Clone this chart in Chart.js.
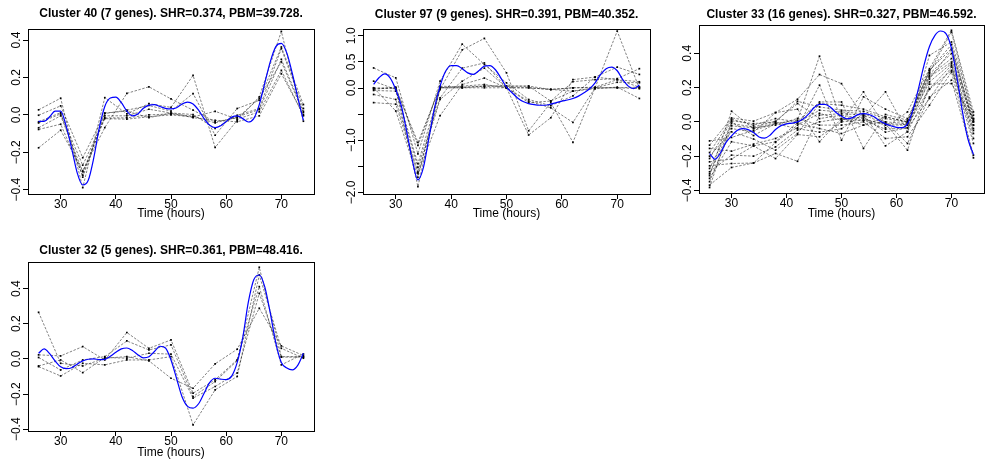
<!DOCTYPE html>
<html lang="en">
  <head>
    <meta charset="UTF-8" />
    <title>Cluster profiles</title>
    <script src="https://cdn.jsdelivr.net/npm/chart.js"></script>
    <style>
      body {
        margin: 0;
        background: #fff;
        width: 995px;
        height: 461px;
        position: relative;
        overflow: hidden;
      }

      canvas {
        position: absolute;
      }
    </style>
  </head>
  <body>
    <canvas id="c40" width="330" height="228" style="left: 0; top: 0"></canvas>
    <canvas id="c97" width="330" height="228" style="left: 332px; top: 0"></canvas>
    <canvas id="c33" width="333" height="228" style="left: 662px; top: 0"></canvas>
    <canvas id="c32" width="330" height="229" style="left: 0; top: 232px"></canvas>

    <script>
      // sampling times (hours)
      const hours = [26, 30, 34, 38, 42, 46, 50, 54, 58, 62, 66, 70, 74];
      const smoothHours = [
        26, 27, 28, 29, 30, 31, 32, 33, 34, 35, 36, 37, 38, 39, 40, 41, 42,
        43, 44, 45, 46, 47, 48, 49, 50, 51, 52, 53, 54, 55, 56, 57, 58, 59,
        60, 61, 62, 63, 64, 65, 66, 67, 68, 69, 70, 71, 72, 73, 74,
      ];
      const xTicks = [30, 40, 50, 60, 70];

      // Cluster 40
      const c40Genes = [
        [-0.176, -0.082, -0.3, -0.068, 0.115, 0.15, 0.085, 0.025, -0.037, -0.016, 0.087, 0.283, 0.012],
        [0.027, 0.089, -0.389, 0.092, 0.005, 0.06, 0.04, 0.211, -0.174, -0.029, 0.096, 0.446, -0.034],
        [-0.002, 0.048, -0.229, 0.007, 0.025, 0.05, 0.02, 0.114, -0.109, 0.034, 0.078, 0.363, 0.055],
        [-0.037, 0.012, -0.333, -0.005, -0.005, 0.03, 0.01, 0.002, -0.073, -0.002, 0.034, 0.354, 0.034],
        [-0.043, 0.005, -0.269, -0.016, -0.016, 0.0, 0.005, -0.007, -0.043, -0.011, 0.028, 0.297, 0.019],
        [-0.069, -0.005, -0.304, -0.02, -0.023, -0.01, 0.0, -0.011, 0.019, -0.023, 0.016, 0.238, -0.005],
        [-0.078, -0.05, -0.322, 0.01, 0.02, -0.015, 0.01, -0.015, -0.029, -0.037, -0.005, 0.22, 0.0],
      ];
      const c40Smooth = [
        -0.035, -0.035, -0.01, 0.02, 0.02, -0.06, -0.18, -0.31, -0.375, -0.35,
        -0.23, -0.07, 0.045, 0.09, 0.095, 0.065, 0.02, -0.005, 0.005, 0.035,
        0.052, 0.055, 0.045, 0.035, 0.032, 0.038, 0.058, 0.068, 0.058, 0.025,
        -0.02, -0.055, -0.068, -0.058, -0.035, -0.012, -0.005, -0.02, -0.038,
        -0.02, 0.055, 0.17, 0.285, 0.365, 0.382, 0.33, 0.22, 0.09, -0.03,
      ];

      // Cluster 97
      const c97Genes = [
        [0.004, -0.01, -1.04, 0.004, 0.004, 0.004, 0.004, 0.004, -0.028, 0.004, 0.004, 0.004, 0.017],
        [-0.028, 0.017, -1.1, 0.036, 0.017, 0.036, 0.036, 0.036, -0.25, 0.12, 0.16, 0.18, 0.37],
        [0.384, 0.194, -1.26, 0.13, 0.84, 0.45, 0.099, -0.22, -0.34, -0.15, 0.21, 0.4, 0.26],
        [0.131, -0.028, -1.45, -0.03, 0.73, 0.95, 0.29, -0.82, -0.28, -1.04, 0.004, 1.09, -0.01],
        [-0.047, -0.06, -1.52, -0.19, 0.38, 0.48, 0.004, -0.9, -0.57, 0.16, 0.21, 0.16, 0.12],
        [-0.124, -0.22, -1.61, -0.22, 0.13, 0.38, 0.004, -0.25, -0.38, -0.66, 0.004, 0.11, 0.1],
        [-0.28, -0.31, -1.64, -0.53, 0.067, 0.19, 0.004, -0.28, -0.25, -0.06, -0.015, 0.017, -0.2],
        [0.004, -0.44, -1.71, 0.004, 0.036, 0.067, 0.004, 0.004, -0.028, 0.004, 0.016, 0.16, 0.017],
        [-0.01, 0.004, -1.89, 0.004, 0.004, 0.036, 0.036, 0.036, -0.028, -0.06, 0.004, 0.004, -0.01],
      ];
      const c97Smooth = [
        0.07, 0.2, 0.27, 0.19, -0.03, -0.34, -0.85, -1.39, -1.76, -1.52, -0.95,
        -0.38, 0.036, 0.32, 0.43, 0.43, 0.37, 0.29, 0.26, 0.33, 0.42, 0.43,
        0.35, 0.19, 0.017, -0.09, -0.19, -0.26, -0.3, -0.32, -0.33, -0.33,
        -0.31, -0.28, -0.25, -0.23, -0.2, -0.155, -0.09, -0.015, 0.1, 0.26,
        0.37, 0.4, 0.33, 0.16, 0.036, -0.01, 0.055,
      ];

      // Cluster 33
      const c33Genes = [
        [-0.111, -0.091, -0.05, -0.01, 0.01, 0.383, 0.0, 0.175, -0.035, 0.058, 0.31, 0.534, 0.058],
        [-0.136, 0.023, 0.004, 0.054, 0.132, 0.276, 0.223, 0.029, 0.175, -0.058, 0.388, 0.466, 0.039],
        [-0.155, -0.171, -0.13, -0.097, -0.035, 0.214, -0.107, 0.146, 0.074, 0.019, 0.29, 0.524, 0.019],
        [-0.179, 0.016, -0.02, 0.019, 0.0, 0.116, 0.116, -0.155, 0.043, 0.01, 0.3, 0.427, 0.01],
        [-0.2, -0.058, -0.1, -0.165, -0.068, 0.107, 0.097, 0.074, 0.029, 0.0, 0.28, 0.398, -0.019],
        [-0.214, 0.006, -0.01, 0.0, 0.12, 0.087, 0.068, 0.062, 0.019, -0.004, 0.27, 0.369, 0.0],
        [-0.233, -0.217, -0.14, -0.116, -0.004, 0.068, 0.058, 0.048, 0.0, -0.01, 0.262, 0.349, -0.039],
        [-0.256, -0.243, -0.24, -0.184, -0.23, 0.039, 0.048, 0.039, -0.01, -0.016, 0.233, 0.34, -0.068],
        [-0.272, -0.01, -0.03, 0.004, 0.107, 0.019, 0.039, 0.019, -0.019, -0.019, 0.194, 0.33, -0.097],
        [-0.291, -0.194, -0.2, -0.146, -0.048, 0.0, 0.019, 0.01, -0.043, -0.035, 0.136, 0.32, -0.126],
        [-0.303, -0.023, -0.035, -0.019, 0.02, -0.019, -0.019, 0.0, -0.097, -0.087, 0.097, 0.291, -0.194],
        [-0.314, 0.062, -0.04, -0.004, -0.01, -0.039, -0.068, -0.019, 0.0, -0.126, 0.145, 0.243, -0.21],
        [-0.33, -0.116, -0.14, -0.214, -0.074, -0.087, 0.0, 0.01, -0.01, -0.165, 0.22, 0.223, 0.019],
        [-0.349, -0.039, -0.06, 0.054, 0.074, -0.116, 0.019, -0.019, 0.029, 0.0, 0.3, 0.45, -0.019],
        [-0.369, -0.266, -0.24, -0.12, -0.019, 0.05, 0.01, 0.029, -0.06, -0.035, 0.25, 0.42, 0.0],
        [-0.383, 0.0, -0.08, -0.01, -0.04, -0.06, -0.04, 0.048, -0.14, -0.058, 0.19, 0.3, -0.05],
      ];
      const c33Smooth = [
        -0.185, -0.218, -0.18, -0.12, -0.082, -0.05, -0.04, -0.045, -0.062,
        -0.088, -0.095, -0.078, -0.045, -0.022, -0.012, -0.007, 0.0, 0.016,
        0.045, 0.082, 0.102, 0.102, 0.085, 0.055, 0.033, 0.018, 0.025, 0.042,
        0.048, 0.043, 0.028, 0.005, -0.012, -0.023, -0.032, -0.034, -0.012,
        0.07, 0.194, 0.33, 0.44, 0.505, 0.53, 0.515, 0.43, 0.26, 0.06, -0.1,
        -0.19,
      ];

      // Cluster 32
      const c32Genes = [
        [0.265, -0.025, -0.04, 0.004, 0.013, -0.011, -0.11, -0.167, -0.028, 0.055, 0.288, 0.074, 0.019],
        [0.023, 0.017, 0.07, -0.006, 0.15, 0.06, 0.108, -0.195, -0.119, -0.005, 0.411, -0.034, 0.028],
        [0.008, -0.063, -0.006, 0.013, 0.102, 0.051, 0.08, -0.214, -0.129, -0.01, 0.521, 0.013, 0.013],
        [-0.04, -0.006, -0.078, 0.008, 0.004, 0.032, 0.027, -0.223, -0.157, -0.08, 0.373, 0.01, 0.01],
        [-0.044, -0.097, -0.025, -0.034, -0.006, -0.006, 0.013, -0.375, -0.176, -0.1, 0.477, 0.06, 0.004],
      ];
      const c32Smooth = [
        0.032, 0.057, 0.03, -0.012, -0.045, -0.055, -0.05, -0.03, -0.011,
        -0.002, 0.0, -0.004, -0.003, 0.015, 0.038, 0.057, 0.062, 0.048, 0.024,
        0.006, 0.012, 0.042, 0.072, 0.062, -0.006, -0.11, -0.215, -0.27, -0.28,
        -0.255, -0.195, -0.135, -0.11, -0.115, -0.118, -0.098, -0.02, 0.12,
        0.32, 0.45, 0.477, 0.41, 0.26, 0.09, -0.02, -0.052, -0.062, -0.035,
        0.032,
      ];

      const smallTicks = [-0.4, -0.2, 0, 0.2, 0.4];
      const smallLabels = ["\u22120.4", "\u22120.2", "0.0", "0.2", "0.4"];
      const wideTicks = [-2, -1.5, -1, -0.5, 0, 0.5, 1];
      const wideLabels = ["\u22122.0", "", "\u22121.0", "", "0.0", "0.5", "1.0"];

      const FONT = "'Liberation Sans', Arial, Helvetica, sans-serif";

      // box, title and axis texts in the R style
      const panelText = {
        id: "panelText",
        afterDraw(chart, args, opts) {
          const { ctx, chartArea: a, scales } = chart;
          ctx.save();
          ctx.strokeStyle = "#000";
          ctx.lineWidth = 1;
          ctx.strokeRect(a.left + 0.5, a.top + 0.5, a.width, a.height);

          ctx.fillStyle = "#000";
          ctx.textAlign = "center";
          ctx.textBaseline = "middle";
          const cx = (a.left + a.right) / 2;
          ctx.font = "bold 12px " + FONT;
          ctx.fillText(opts.title, cx, opts.titleY);

          ctx.font = "12px " + FONT;
          xTicks.forEach((v) => {
            ctx.fillText(String(v), scales.x.getPixelForValue(v), a.bottom + 11);
          });
          ctx.fillText("Time (hours)", cx, opts.xTitleY);

          opts.yTicks.forEach((v, i) => {
            const lab = opts.yLabels[i];
            if (!lab) return;
            ctx.save();
            ctx.translate(a.left - 11.5, scales.y.getPixelForValue(v));
            ctx.rotate(-Math.PI / 2);
            ctx.fillText(lab, 0, 0);
            ctx.restore();
          });
          ctx.restore();
        },
      };

      function makePanel(p) {
        const datasets = [
          {
            data: p.smooth.map((v, i) => ({ x: smoothHours[i], y: v })),
            borderColor: "#0000ff",
            borderWidth: 1.2,
            pointRadius: 0,
            cubicInterpolationMode: "monotone",
            order: 0,
          },
        ];
        p.genes.forEach((vals) => {
          datasets.push({
            data: vals.map((v, i) => ({ x: hours[i], y: v })),
            borderColor: "rgba(0, 0, 0, 0.7)",
            borderWidth: 0.7,
            borderDash: [2.5, 1.5],
            pointStyle: "rect",
            pointRadius: 1.2,
            pointBackgroundColor: "#000",
            pointBorderWidth: 0,
            tension: 0,
            order: 1,
          });
        });

        const canvas = document.getElementById(p.id);
        const left = parseFloat(canvas.style.left) || 0;
        const top = parseFloat(canvas.style.top) || 0;
        const w = canvas.width;
        const h = canvas.height;
        const b = p.box;

        const gridOpts = {
          drawOnChartArea: false,
          drawTicks: true,
          tickLength: 5,
          color: "#000",
          lineWidth: 1,
        };

        new Chart(canvas, {
          type: "line",
          data: { datasets: datasets },
          options: {
            responsive: false,
            animation: false,
            layout: {
              padding: { left: 0, top: b.t - top, right: left + w - b.r, bottom: 0 },
            },
            plugins: {
              legend: { display: false },
              tooltip: { enabled: false },
              panelText: {
                title: p.title,
                titleY: p.titleY - top,
                xTitleY: p.xTitleY - top,
                yTicks: p.yTicks,
                yLabels: p.yLabels,
              },
            },
            scales: {
              x: {
                type: "linear",
                min: 24.08,
                max: 75.92,
                afterBuildTicks: (s) => {
                  s.ticks = xTicks.map((v) => ({ value: v }));
                },
                afterFit: (s) => {
                  s.height = h - (b.b - top);
                },
                grid: gridOpts,
                border: { display: false },
                ticks: { color: "rgba(0,0,0,0)", font: { size: 12 }, maxRotation: 0 },
              },
              y: {
                min: p.yMin,
                max: p.yMax,
                afterBuildTicks: (s) => {
                  s.ticks = p.yTicks.map((v) => ({ value: v }));
                },
                afterFit: (s) => {
                  s.width = b.l - left;
                },
                grid: gridOpts,
                border: { display: false },
                ticks: { color: "rgba(0,0,0,0)", font: { size: 12 } },
              },
            },
          },
          plugins: [panelText],
        });
      }

      makePanel({
        id: "c40",
        title: "Cluster 40 (7 genes). SHR=0.374, PBM=39.728.",
        genes: c40Genes,
        smooth: c40Smooth,
        yMin: -0.423,
        yMax: 0.459,
        yTicks: smallTicks,
        yLabels: smallLabels,
        box: { l: 28, t: 29, r: 314, b: 194 },
        titleY: 13.7,
        xTitleY: 214,
      });

      makePanel({
        id: "c97",
        title: "Cluster 97 (9 genes). SHR=0.391, PBM=40.352.",
        genes: c97Genes,
        smooth: c97Smooth,
        yMin: -2.03,
        yMax: 1.13,
        yTicks: wideTicks,
        yLabels: wideLabels,
        box: { l: 363, t: 29, r: 650, b: 194 },
        titleY: 14.3,
        xTitleY: 214,
      });

      makePanel({
        id: "c33",
        title: "Cluster 33 (16 genes). SHR=0.327, PBM=46.592.",
        genes: c33Genes,
        smooth: c33Smooth,
        yMin: -0.415,
        yMax: 0.565,
        yTicks: smallTicks,
        yLabels: smallLabels,
        box: { l: 699, t: 25, r: 984, b: 193 },
        titleY: 15,
        xTitleY: 214,
      });

      makePanel({
        id: "c32",
        title: "Cluster 32 (5 genes). SHR=0.361, PBM=48.416.",
        genes: c32Genes,
        smooth: c32Smooth,
        yMin: -0.41,
        yMax: 0.551,
        yTicks: smallTicks,
        yLabels: smallLabels,
        box: { l: 28, t: 262, r: 314, b: 431 },
        titleY: 250.3,
        xTitleY: 453,
      });
    </script>
  </body>
</html>
